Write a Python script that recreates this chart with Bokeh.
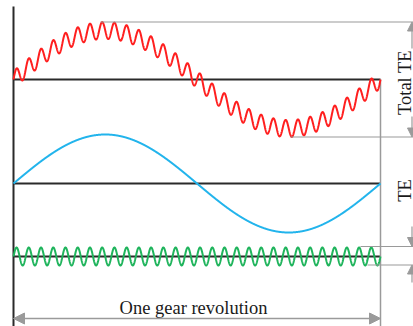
import numpy as np
from bokeh.plotting import figure
from bokeh.models import Range1d, Arrow, NormalHead
from bokeh.core.properties import value
from bokeh.embed import file_html
from bokeh.resources import INLINE

# Schematic of transmission error (TE) over one gear revolution
mesh_cycles_per_rev = 30        # tooth-mesh ripples in one revolution
te_amplitude = 49               # once-per-revolution TE amplitude
mesh_amplitude = 8.5            # tooth-mesh TE amplitude
labels = ["Total TE", "TE", "One gear revolution"]

# vertical baselines of the three traces (screen-down units)
base_total, base_te, base_mesh = 79, 183, 256

W, H = 413, 326
X0, X1 = 13, 380                # pixel span of one revolution
span = X1 - X0

p = figure(width=W, height=H, output_backend="svg", toolbar_location=None,
           x_range=Range1d(-X0 / span, (W - X0) / span),
           y_range=Range1d(H, 0), min_border=0)
p.axis.visible = False
p.grid.visible = False
p.outline_line_color = None
p.background_fill_color = "white"
p.border_fill_color = "white"

rev = np.linspace(0, 1, 2000)
te = te_amplitude * np.sin(2 * np.pi * rev)
mesh = mesh_amplitude * np.sin(2 * np.pi * mesh_cycles_per_rev * rev)
mesh_green = (mesh_amplitude + 0.5) * np.sin(2 * np.pi * mesh_cycles_per_rev * rev)

dark = "#2a2a2a"
grey = "#9a9a9a"

# zero lines
for b in (base_total, base_te, base_mesh):
    p.line([0, 1], [b, b], line_color=dark, line_width=2)

# left axis and right boundary
p.line([0, 0], [6, H], line_color=dark, line_width=2)
p.line([1, 1], [base_total, H], line_color=grey, line_width=1.5)

# traces
p.line(rev, base_total - (te + mesh), line_color="#ff1f1f", line_width=2)
p.line(rev, base_te - te, line_color="#22b4ec", line_width=2)
p.line(rev, base_mesh - mesh_green, line_color="#1fb45c", line_width=2)


def px(x):
    return (x - X0) / span


xr = px(W)
# extension lines for the amplitude dimensions
top_total = base_total - te_amplitude - mesh_amplitude
bot_total = base_total + te_amplitude + mesh_amplitude
p.line([px(100), xr], [top_total, top_total], line_color=grey, line_width=1.2)
p.line([px(290), xr], [bot_total, bot_total], line_color=grey, line_width=1.2)
p.line([px(360), xr], [base_mesh - 10, base_mesh - 10], line_color=grey, line_width=1.2)
p.line([px(367), xr], [base_mesh + 8.5, base_mesh + 8.5], line_color=grey, line_width=1.2)

xd = px(411.5)
for (ys, ye) in [(48, top_total), (116, bot_total), (226, base_mesh - 10), (282, base_mesh + 8.5)]:
    p.add_layout(Arrow(x_start=xd, y_start=ys, x_end=xd, y_end=ye,
                       line_color=grey, line_width=1.2,
                       end=NormalHead(size=9, fill_color=grey, line_color=grey)))

# one-revolution dimension arrow
p.add_layout(Arrow(x_start=0, y_start=318, x_end=1, y_end=318,
                   line_color=grey, line_width=1.5,
                   start=NormalHead(size=11, fill_color=grey, line_color=grey),
                   end=NormalHead(size=11, fill_color=grey, line_color=grey)))

font = value("Liberation Serif")
p.text(x=[px(404), px(404)], y=[82, 190], text=labels[:2], angle=np.pi / 2,
       text_font=font, text_font_size="18.5px", text_color="#1a1a1a",
       text_align="center", text_baseline="middle")
p.text(x=[px(193)], y=[307], text=labels[2:], text_font=font,
       text_font_size="18.5px", text_color="#1a1a1a",
       text_align="center", text_baseline="alphabetic")

open("out.html", "w").write(file_html(p, INLINE))
